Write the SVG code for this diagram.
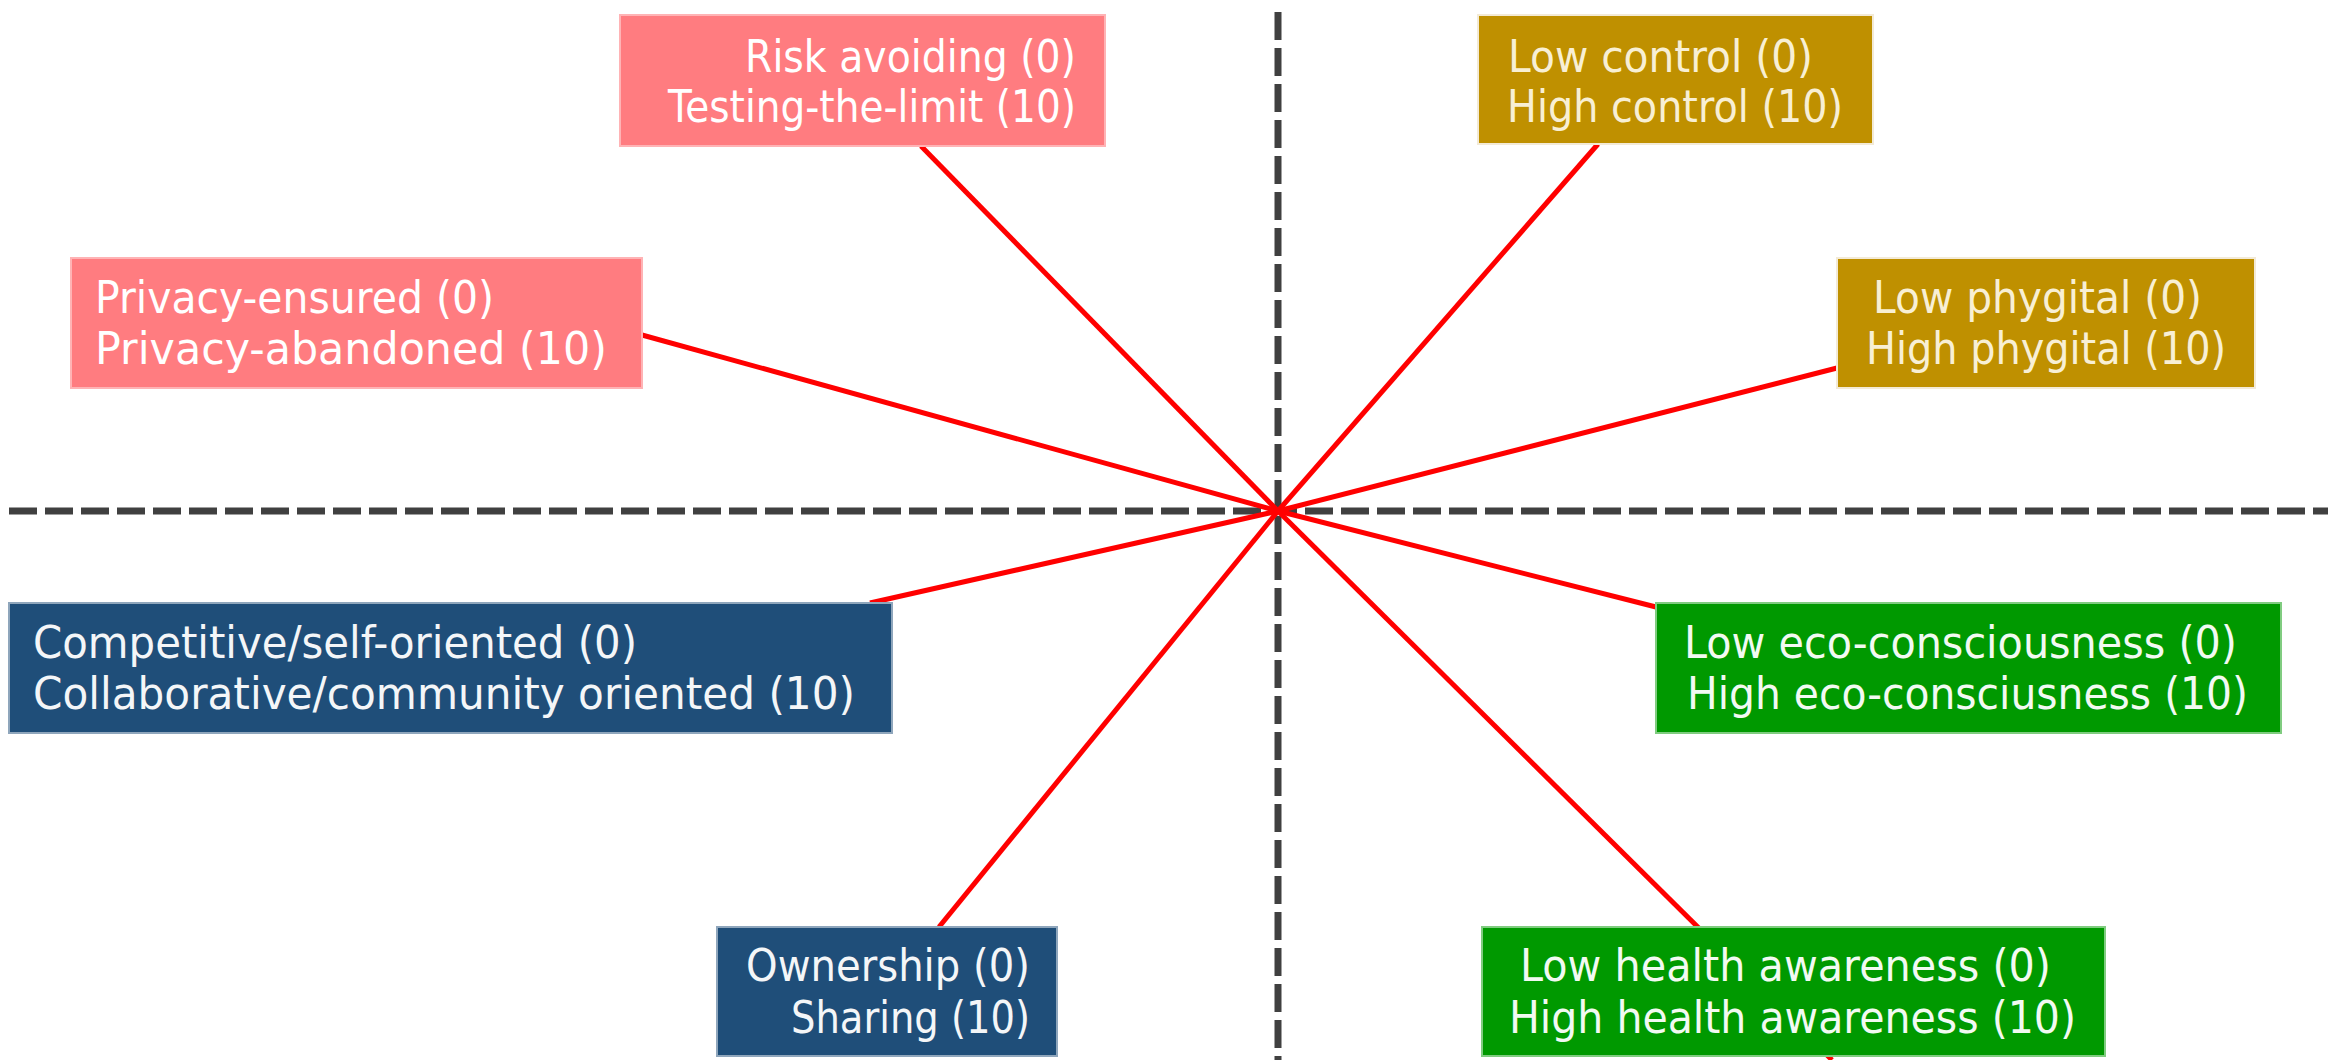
<svg xmlns="http://www.w3.org/2000/svg" width="2328" height="1060" viewBox="0 0 2328 1060">
  <style>
    .axis { stroke: #404040; stroke-width: 7; stroke-dasharray: 28 8; fill: none; }
    .spoke { stroke: #FF0000; stroke-width: 5; fill: none; stroke-linecap: butt; }
    .lbl { font-family: "DejaVu Sans", "Liberation Sans", sans-serif; font-size: 44px; }
    .pink rect { fill: #FF7C80; stroke: #FFB3B5; stroke-width: 2; }
    .pink text { fill: #FFFFFF; }
    .gold rect { fill: #BF9000; stroke: #F3EAD6; stroke-width: 2; }
    .gold text { fill: #F8EFD4; }
    .navy rect { fill: #1F4E79; stroke: #8FA6BC; stroke-width: 2; }
    .navy text { fill: #F4F6F8; }
    .green rect { fill: #009900; stroke: #80CC80; stroke-width: 2; }
    .green text { fill: #F2FAF2; }
  </style>
  <rect x="0" y="0" width="2328" height="1060" fill="#FFFFFF"/>

  <g id="axes">
    <line class="axis" x1="1278" y1="12" x2="1278" y2="1060"/>
    <line class="axis" x1="9" y1="511" x2="2328" y2="511"/>
  </g>

  <g id="connectors">
    <line class="spoke" x1="1278" y1="511" x2="921" y2="146"/>
    <line class="spoke" x1="1278" y1="511" x2="642" y2="335"/>
    <line class="spoke" x1="1278" y1="511" x2="1598" y2="144"/>
    <line class="spoke" x1="1278" y1="511" x2="1837" y2="368"/>
    <line class="spoke" x1="1278" y1="511" x2="870" y2="603"/>
    <line class="spoke" x1="1278" y1="511" x2="939" y2="927"/>
    <line class="spoke" x1="1278" y1="511" x2="1656" y2="607"/>
    <line class="spoke" x1="1278" y1="511" x2="1832" y2="1060"/>
  </g>

  <g id="node-risk" class="pink lbl">
    <rect x="620" y="15" width="485" height="131"/>
    <text x="745" y="72" textLength="331" lengthAdjust="spacingAndGlyphs">Risk avoiding (0)</text>
    <text x="668" y="122" textLength="408" lengthAdjust="spacingAndGlyphs">Testing-the-limit (10)</text>
  </g>

  <g id="node-privacy" class="pink lbl">
    <rect x="71" y="258" width="571" height="130"/>
    <text x="95" y="313" textLength="399" lengthAdjust="spacingAndGlyphs">Privacy-ensured (0)</text>
    <text x="95" y="364" textLength="512" lengthAdjust="spacingAndGlyphs">Privacy-abandoned (10)</text>
  </g>

  <g id="node-control" class="gold lbl">
    <rect x="1478" y="15" width="395" height="129"/>
    <text x="1508" y="72" textLength="305" lengthAdjust="spacingAndGlyphs">Low control (0)</text>
    <text x="1507" y="122" textLength="336" lengthAdjust="spacingAndGlyphs">High control (10)</text>
  </g>

  <g id="node-phygital" class="gold lbl">
    <rect x="1837" y="258" width="418" height="130"/>
    <text x="1873" y="313" textLength="329" lengthAdjust="spacingAndGlyphs">Low phygital (0)</text>
    <text x="1866" y="364" textLength="360" lengthAdjust="spacingAndGlyphs">High phygital (10)</text>
  </g>

  <g id="node-competitive" class="navy lbl">
    <rect x="9" y="603" width="883" height="130"/>
    <text x="33" y="658" textLength="604" lengthAdjust="spacingAndGlyphs">Competitive/self-oriented (0)</text>
    <text x="33" y="709" textLength="822" lengthAdjust="spacingAndGlyphs">Collaborative/community oriented (10)</text>
  </g>

  <g id="node-ownership" class="navy lbl">
    <rect x="717" y="927" width="340" height="129"/>
    <text x="746" y="981" textLength="284" lengthAdjust="spacingAndGlyphs">Ownership (0)</text>
    <text x="791" y="1033" textLength="239" lengthAdjust="spacingAndGlyphs">Sharing (10)</text>
  </g>

  <g id="node-eco" class="green lbl">
    <rect x="1656" y="603" width="625" height="130"/>
    <text x="1684" y="658" textLength="553" lengthAdjust="spacingAndGlyphs">Low eco-consciousness (0)</text>
    <text x="1687" y="709" textLength="561" lengthAdjust="spacingAndGlyphs">High eco-consciusness (10)</text>
  </g>

  <g id="node-health" class="green lbl">
    <rect x="1482" y="927" width="623" height="129"/>
    <text x="1520" y="981" textLength="531" lengthAdjust="spacingAndGlyphs">Low health awareness (0)</text>
    <text x="1509" y="1033" textLength="567" lengthAdjust="spacingAndGlyphs">High health awareness (10)</text>
  </g>
</svg>
